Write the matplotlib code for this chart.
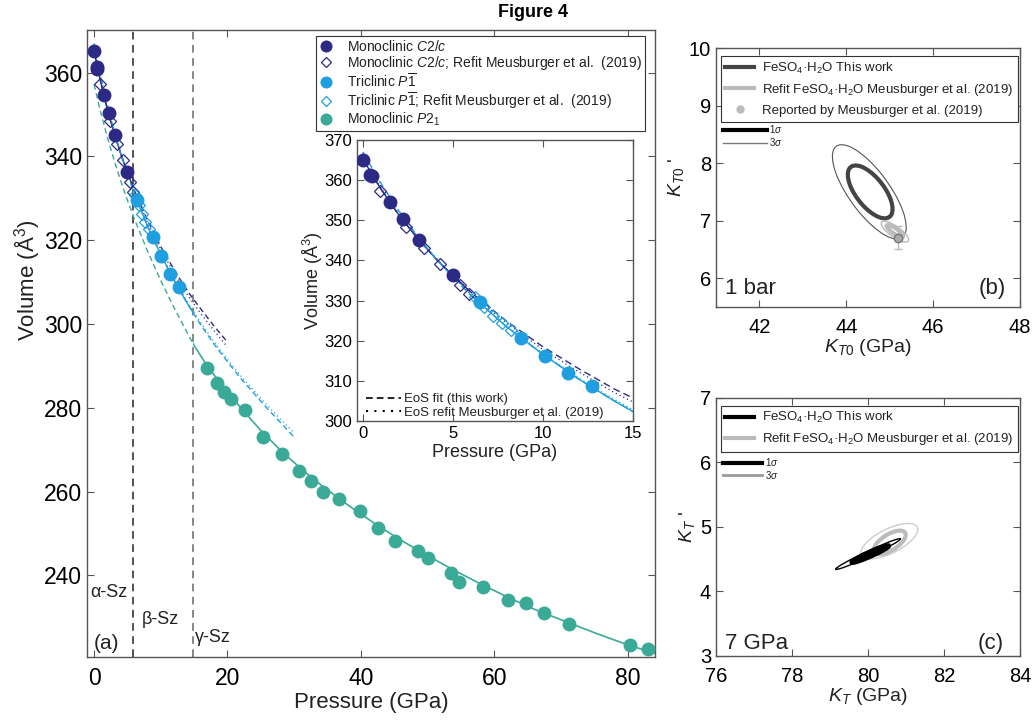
import numpy as np
import matplotlib
matplotlib.use("Agg")
import matplotlib.pyplot as plt
from matplotlib.lines import Line2D
from matplotlib.patches import Ellipse, Polygon

plt.rcParams['font.family'] = ['Liberation Sans', 'DejaVu Sans']
plt.rcParams['mathtext.fontset'] = 'custom'
plt.rcParams['mathtext.rm'] = 'Liberation Sans'
plt.rcParams['mathtext.it'] = 'Liberation Sans:italic'
plt.rcParams['mathtext.bf'] = 'Liberation Sans:bold'
plt.rcParams['text.color'] = '#222222'
plt.rcParams['axes.labelcolor'] = '#222222'

# ---- measured points (pressure GPa, volume A^3) ----
c2c_P = [0.0, 0.4, 0.5, 1.5, 2.2, 3.1, 5.0]
c2c_V = [365.1, 361.4, 361.0, 354.6, 350.4, 345.2, 336.3]
c2c_refit_P = [0.95, 2.4, 3.4, 4.3, 5.4, 5.9]
c2c_refit_V = [357.3, 348.4, 343.0, 339.2, 334.0, 331.6]
p1_P = [6.5, 8.8, 10.1, 11.4, 12.7]
p1_V = [329.7, 320.7, 316.2, 312.0, 308.8]
p1_refit_P = [6.2, 6.7, 7.2, 7.7, 8.2]
p1_refit_V = [330.8, 328.3, 326.2, 324.4, 322.6]
p21_P = [16.9, 18.4, 19.5, 20.6, 22.6, 25.3, 28.2, 30.8, 32.6, 34.3, 36.8, 39.9,
         42.6, 45.1, 48.5, 50.1, 53.5, 54.7, 58.3, 62.0, 64.7, 67.4, 71.2, 80.4, 83.0]
p21_V = [289.5, 285.9, 283.7, 282.0, 279.4, 273.0, 269.0, 265.0, 262.6, 260.0, 258.2, 255.3,
         251.4, 248.3, 245.8, 244.1, 240.6, 238.4, 237.1, 234.2, 233.4, 230.9, 228.4, 223.4, 222.3]

# ---- EoS curves ----
c2c_fit_P = [0, 1, 2, 3, 4, 5, 6, 8, 10, 12, 14, 16, 18, 20]
c2c_fit_V = [365.2, 357.8, 351.3, 345.7, 340.7, 336.2, 332.1, 324.8, 318.5, 313.0, 307.9, 303.6, 299.5, 295.7]
c2c_refitcurve_V = [365.4, 358.0, 351.4, 345.7, 340.6, 336.0, 331.8, 324.3, 317.8, 312.2, 307.0, 302.5, 298.4, 294.5]

p1_fit_P = [0, 1, 2, 3, 4, 5, 6, 8, 10, 12, 14, 16, 18, 20, 22, 24, 26, 28, 30]
p1_fit_V = [367.0, 359.2, 352.3, 346.2, 340.7, 335.8, 331.3, 323.4, 316.6, 310.4, 304.9, 299.8,
            295.2, 291.0, 287.0, 283.4, 279.8, 276.4, 273.0]
p1_refitcurve_V = [366.8, 359.1, 352.3, 346.3, 340.9, 336.0, 331.5, 323.6, 316.8, 310.7, 305.3, 300.3,
                   295.7, 291.5, 287.6, 284.0, 280.5, 277.2, 274.0]

p21_fit_P = [0, 1, 2, 3, 4, 5, 6, 8, 10, 12, 14, 15, 17, 20, 22.5, 25, 28, 31, 34, 37, 40,
             43, 46, 50, 54, 58, 62, 66, 70, 75, 80, 84]
p21_fit_V = [357.2, 350.6, 344.6, 339.2, 334.2, 329.6, 325.3, 317.5, 310.4, 303.9, 297.8, 294.9,
             289.9, 283.7, 279.1, 274.6, 269.8, 265.5, 261.6, 258.0, 254.6, 251.4, 248.4, 244.7,
             241.2, 237.9, 234.8, 231.9, 229.4, 226.3, 223.4, 221.4]

phase_bounds = [5.9, 14.8]

# ---- confidence ellipses: centre x, centre y, width, height, angle ----
b_work = [(44.55, 7.50, 1.256, 0.573, -40.0), (44.53, 7.50, 2.21, 0.834, -43.6)]
b_refit = [(45.12, 6.82, 0.42, 0.10, -26.6), (45.12, 6.81, 0.70, 0.20, -26.6)]
b_reported = (45.2, 6.7, 0.08, 0.2)
c_work = [(80.06, 4.58, 1.0, 0.07, 14.6), (80.0, 4.58, 1.77, 0.09, 15.4)]
c_refit = [(80.57, 4.76, 0.88, 0.27, 17.3), (80.56, 4.78, 1.55, 0.40, 14.6)]

navy = '#2d2a86'
sky = '#1f9ee0'
teal = '#3aaa96'
spine = '#555555'


def style(ax, fs, xpad=3.5):
    ax.tick_params(direction='in', top=True, right=True, labelsize=fs,
                   color=spine, length=5, width=0.8)
    ax.tick_params(axis='x', pad=xpad)
    for s in ax.spines.values():
        s.set_color(spine)
        s.set_linewidth(1.0)


def clipped(ax, x, y, x0, x1, **kw):
    # draw only the part of the curve between pressures x0 and x1
    line, = ax.plot(x, y, **kw)
    poly = Polygon([(x0, 150), (x1, 150), (x1, 450), (x0, 450)], closed=True, transform=ax.transData)
    line.set_clip_path(poly)
    return line


fig = plt.figure(figsize=(10.32, 7.21), dpi=100)
fig.text(0.5165, 0.983, 'Figure 4', ha='center', va='center', fontsize=13, fontweight='bold', color='black')

# ================= panel (a) =================
ax = fig.add_axes([0.0843, 0.0888, 0.5504, 0.8696])
style(ax, 16.5, xpad=7)

for xb, col in zip(phase_bounds, ['#222222', '#666666']):
    ax.axvline(xb, color=col, lw=1.1, dashes=(5, 3.6), zorder=1)

dash = (4, 2.5)
dot = (0.8, 2.2)
# C2/c
clipped(ax, c2c_fit_P, c2c_fit_V, -2, phase_bounds[0], color=navy, lw=1.0)
ax.plot(c2c_fit_P, c2c_fit_V, color=navy, lw=1.0, dashes=dash)
ax.plot(c2c_fit_P, c2c_refitcurve_V, color=navy, lw=1.0, dashes=dot)
# P-1
clipped(ax, p1_fit_P, p1_fit_V, phase_bounds[0], phase_bounds[1], color=sky, lw=1.0)
ax.plot(p1_fit_P, p1_fit_V, color=sky, lw=1.0, dashes=dash)
ax.plot(p1_fit_P, p1_refitcurve_V, color=sky, lw=1.0, dashes=dot)
# P21
clipped(ax, p21_fit_P, p21_fit_V, -2, phase_bounds[1], color=teal, lw=1.0, dashes=dash)
clipped(ax, p21_fit_P, p21_fit_V, phase_bounds[1], 90, color=teal, lw=1.2)

ms = 9
ax.plot(c2c_P, c2c_V, 'o', color=navy, ms=ms, ls='none', label=r'Monoclinic $\mathit{C2/c}$', zorder=5)
ax.plot(c2c_refit_P, c2c_refit_V, 'D', mfc='none', mec=navy, mew=0.9, ms=6.5, ls='none',
        label=r'Monoclinic $\mathit{C2/c}$; Refit Meusburger et al.  (2019)', zorder=4)
ax.plot(p1_P, p1_V, 'o', color=sky, ms=ms, ls='none', label=r'Triclinic $\mathit{P}\overline{1}$', zorder=5)
ax.plot(p1_refit_P, p1_refit_V, 'D', mfc='none', mec=sky, mew=0.9, ms=6.5, ls='none',
        label=r'Triclinic $\mathit{P}\overline{1}$; Refit Meusburger et al.  (2019)', zorder=4)
ax.plot(p21_P, p21_V, 'o', color=teal, ms=ms, ls='none', label=r'Monoclinic $\mathit{P2}_1$', zorder=5)

ax.set_xlim(-1.05, 84.1)
ax.set_ylim(220.5, 370.2)
ax.set_xticks([0, 20, 40, 60, 80])
ax.set_yticks([240, 260, 280, 300, 320, 340, 360])
ax.set_xlabel('Pressure (GPa)', fontsize=16, labelpad=2)
ax.set_ylabel('Volume (Å$^3$)', fontsize=16)
ax.yaxis.set_label_coords(-0.079, 0.6)

ax.text(-0.6, 236.0, 'α-Sz', fontsize=13, va='center', ha='left')
ax.text(7.15, 229.5, 'β-Sz', fontsize=13, va='center', ha='left')
ax.text(15.1, 225.2, 'γ-Sz', fontsize=13, va='center', ha='left')
ax.text(-0.1, 223.6, '(a)', fontsize=15, va='center', ha='left')

leg = ax.legend(loc='upper right', bbox_to_anchor=(0.982, 0.99), borderaxespad=0, fontsize=10,
                frameon=True, fancybox=False, edgecolor='#333333', framealpha=1, markerscale=0.85,
                handlelength=1.0, handletextpad=1.0, labelspacing=0.0, borderpad=0.2)
leg.get_frame().set_linewidth(0.8)

# ================= inset =================
ins = fig.add_axes([0.3459, 0.4161, 0.2674, 0.3897])
style(ins, 12)
ins.set_xlim(-0.33, 15)
ins.set_ylim(300, 370)
clipped(ins, c2c_fit_P, c2c_fit_V, -2, phase_bounds[0], color=navy, lw=1.0)
ins.plot(c2c_fit_P, c2c_fit_V, color=navy, lw=1.0, dashes=(5, 3))
ins.plot(c2c_fit_P, c2c_refitcurve_V, color=navy, lw=1.0, dashes=dot)
clipped(ins, p1_fit_P, p1_fit_V, phase_bounds[0], 30, color=sky, lw=1.0)
ins.plot(p1_fit_P, p1_fit_V, color=sky, lw=1.0, dashes=(5, 3))
ins.plot(p1_fit_P, p1_refitcurve_V, color=sky, lw=1.0, dashes=dot)
ins.plot(c2c_P, c2c_V, 'o', color=navy, ms=ms, ls='none', zorder=5)
ins.plot(c2c_refit_P, c2c_refit_V, 'D', mfc='none', mec=navy, mew=0.9, ms=6.5, ls='none', zorder=4)
ins.plot(p1_P, p1_V, 'o', color=sky, ms=ms, ls='none', zorder=5)
ins.plot(p1_refit_P, p1_refit_V, 'D', mfc='none', mec=sky, mew=0.9, ms=6.5, ls='none', zorder=4)
ins.set_xticks([0, 5, 10, 15])
ins.set_yticks(range(300, 371, 10))
ins.set_xlabel('Pressure (GPa)', fontsize=13, labelpad=2)
ins.set_ylabel('Volume (Å$^3$)', fontsize=13, labelpad=0)
ins.yaxis.set_label_coords(-0.115, 0.5)
ins.legend(handles=[Line2D([], [], color='black', lw=1.2, dashes=(4, 2.5)),
                    Line2D([], [], color='black', lw=1.5, dashes=(1, 3))],
           labels=['EoS fit (this work)', 'EoS refit Meusburger et al. (2019)'],
           loc='lower left', bbox_to_anchor=(0.0, -0.025), fontsize=9.5, frameon=False,
           handlelength=2.6, handletextpad=0.3, labelspacing=0.1, borderpad=0.2)

# ================= panel (b) =================
axb = fig.add_axes([0.6938, 0.5742, 0.2946, 0.3592])
style(axb, 14.5, xpad=8)
for (cx, cy, w, h, a), lw in zip(b_work, [3.0, 0.8]):
    axb.add_patch(Ellipse((cx, cy), w, h, angle=a, fill=False, ec='#444444' if lw > 1 else '#555555', lw=lw))
for (cx, cy, w, h, a), lw in zip(b_refit, [3.0, 1.0]):
    axb.add_patch(Ellipse((cx, cy), w, h, angle=a, fill=False, ec='#bbbbbb', lw=lw))
axb.errorbar(b_reported[0], b_reported[1], xerr=b_reported[2], yerr=b_reported[3], fmt='o',
             color='#bbbbbb', mfc='#aaaaaa', mec='#777777', ms=6, capsize=3, lw=1, zorder=5)
axb.set_xlim(41, 48)
axb.set_ylim(5.5, 10)
axb.set_xticks([42, 44, 46, 48])
axb.set_yticks([6, 7, 8, 9, 10])
axb.set_xlabel(r'$K_{\mathit{T0}}$ (GPa)', fontsize=14, labelpad=0)
axb.set_ylabel(r"$K_{\mathit{T0}}$ '", fontsize=14, labelpad=2)
axb.text(0.03, 0.073, '1 bar', transform=axb.transAxes, fontsize=16, va='center', ha='left')
axb.text(0.955, 0.073, '(b)', transform=axb.transAxes, fontsize=16, va='center', ha='right')
lb = axb.legend(handles=[Line2D([], [], color='#444444', lw=3),
                         Line2D([], [], color='#bbbbbb', lw=3),
                         Line2D([], [], color='#bbbbbb', marker='o', ms=5, ls='none')],
                labels=['FeSO$_4$·H$_2$O This work', 'Refit FeSO$_4$·H$_2$O Meusburger et al. (2019)',
                        'Reported by Meusburger et al. (2019)'],
                loc='upper left', bbox_to_anchor=(0.015, 0.97), borderaxespad=0, fontsize=9.5,
                frameon=True, fancybox=False, edgecolor='#333333', framealpha=1,
                handlelength=2.2, handletextpad=0.6, labelspacing=0.5, borderpad=0.35)
lb.get_frame().set_linewidth(0.8)
axb.add_artist(lb)
axb.legend(handles=[Line2D([], [], color='black', lw=3), Line2D([], [], color='#777777', lw=1)],
           labels=[r'1$\sigma$', r'3$\sigma$'], loc='upper left', bbox_to_anchor=(0.0, 0.735),
           fontsize=7, frameon=False, handlelength=4.5, handletextpad=0.3, labelspacing=0.05,
           borderpad=0.2)

# ================= panel (c) =================
axc = fig.add_axes([0.6938, 0.0902, 0.2946, 0.3578])
style(axc, 14.5, xpad=8)
for (cx, cy, w, h, a), lw in zip(c_refit, [3.0, 1.0]):
    axc.add_patch(Ellipse((cx, cy), w, h, angle=a, fill=False, ec='#bbbbbb' if lw > 1 else '#cccccc', lw=lw))
for (cx, cy, w, h, a), lw in zip(c_work, [3.5, 1.0]):
    axc.add_patch(Ellipse((cx, cy), w, h, angle=a, fill=False, ec='black', lw=lw))
axc.set_xlim(76, 84)
axc.set_ylim(3, 7)
axc.set_xticks([76, 78, 80, 82, 84])
axc.set_yticks([3, 4, 5, 6, 7])
axc.set_xlabel(r'$K_{\mathit{T}}$ (GPa)', fontsize=14, labelpad=0)
axc.set_ylabel(r"$K_{\mathit{T}}$ '", fontsize=14, labelpad=2)
axc.text(0.03, 0.05, '7 GPa', transform=axc.transAxes, fontsize=16, va='center', ha='left')
axc.text(0.945, 0.05, '(c)', transform=axc.transAxes, fontsize=16, va='center', ha='right')
lc = axc.legend(handles=[Line2D([], [], color='black', lw=3), Line2D([], [], color='#bbbbbb', lw=3)],
                labels=['FeSO$_4$·H$_2$O This work', 'Refit FeSO$_4$·H$_2$O Meusburger et al. (2019)'],
                loc='upper left', bbox_to_anchor=(0.015, 0.97), borderaxespad=0, fontsize=9.5,
                frameon=True, fancybox=False, edgecolor='#333333', framealpha=1,
                handlelength=2.2, handletextpad=0.6, labelspacing=0.45, borderpad=0.35)
lc.get_frame().set_linewidth(0.8)
axc.add_artist(lc)
axc.legend(handles=[Line2D([], [], color='black', lw=3), Line2D([], [], color='#999999', lw=2)],
           labels=[r'1$\sigma$', r'3$\sigma$'], loc='upper left', bbox_to_anchor=(0.0, 0.8),
           fontsize=7, frameon=False, handlelength=4.0, handletextpad=0.3, labelspacing=0.05,
           borderpad=0.2)

fig.savefig('out.png', dpi=100)
